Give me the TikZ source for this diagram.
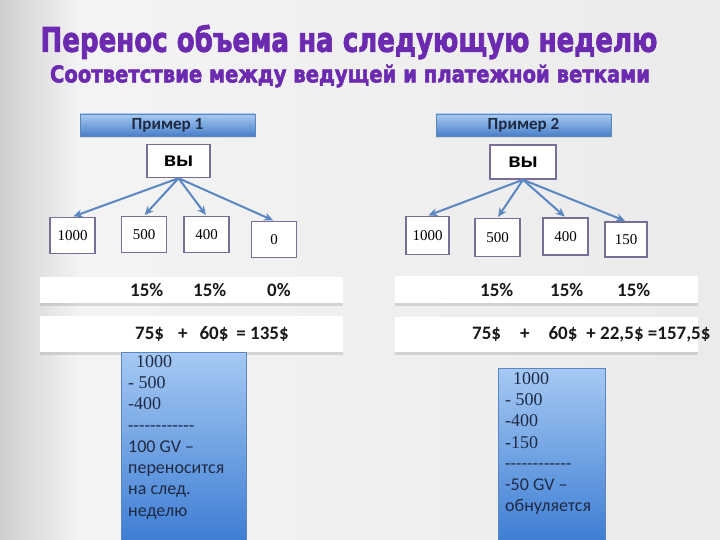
\documentclass[tikz,border=0pt]{standalone}
\usepackage{fontspec}
\usepackage{graphicx}
\setmainfont{Carlito}
\newfontfamily\heavyfont{DejaVu Sans}[BoldFeatures={FakeBold=2.5}]
\newfontfamily\arialfont{Liberation Sans}
\newfontfamily\timesfont{Liberation Serif}
\usetikzlibrary{arrows.meta,shadows}

\definecolor{titlepurple}{HTML}{6B2AB0}
\definecolor{hdrtop}{HTML}{A7CBF2}
\definecolor{hdrbot}{HTML}{4A7FC8}
\definecolor{hdrline}{HTML}{5B86C0}
\definecolor{boxline}{HTML}{7A6E98}
\definecolor{arrowblue}{HTML}{5A86C2}
\definecolor{talltop}{HTML}{A5C9F3}
\definecolor{tallbot}{HTML}{3C7CD3}
\definecolor{hdrtext}{HTML}{1F2A44}

\begin{document}
\begin{tikzpicture}[x=1pt, y=-1pt]
%styles
\tikzstyle{hdr}=[rectangle, draw=hdrline, top color=hdrtop, bottom color=hdrbot, minimum width=175pt, minimum height=22pt, inner sep=0pt, text=hdrtext, font=\bfseries\fontsize{17}{17}\selectfont, drop shadow={shadow xshift=0pt, shadow yshift=-2pt, opacity=0.2}]
\tikzstyle{youbox}=[rectangle, draw=boxline, line width=1.5pt, fill=white, minimum width=63pt, minimum height=33pt, inner sep=0pt, font=\arialfont\bfseries\fontsize{20}{20}\selectfont]
\tikzstyle{leaf}=[rectangle, draw=boxline, line width=1.5pt, fill=white, minimum width=45pt, minimum height=36pt, inner sep=0pt, font=\timesfont\fontsize{15}{15}\selectfont]
\tikzstyle{band}=[fill=white, drop shadow={shadow xshift=0pt, shadow yshift=-2.5pt, opacity=0.25}]
\tikzstyle{tall}=[draw=hdrline, top color=talltop, bottom color=tallbot]
\tikzstyle{textw}=[inner sep=0pt, anchor=base west, text=black!90, font=\bfseries\fontsize{19}{19}\selectfont]
\tikzstyle{textBox}=[inner sep=0pt, anchor=north west, align=left, text=hdrtext, font=\fontsize{18}{21.3}\selectfont]
\tikzstyle{vector}=[-{Stealth[length=9pt,width=8pt]}, line width=2pt, arrowblue, shorten >=1pt]

%background
\useasboundingbox (0,0) rectangle (720,540);
\shade[left color=gray!38, right color=gray!9] (0,0) rectangle (80,540);
\shade[left color=gray!9, middle color=gray!3, right color=gray!16] (80,0) rectangle (720,540);

%titles
\node[text=titlepurple, inner sep=0pt] (title) at (349,42) {\heavyfont\bfseries\fontsize{34}{34}\selectfont\resizebox{617pt}{\height}{Перенос объема на следующую неделю}};
\node[text=titlepurple, inner sep=0pt] (subtitle) at (350,76) {\heavyfont\bfseries\fontsize{23}{23}\selectfont\resizebox{600pt}{\height}{Соответствие между ведущей и платежной ветками}};

%example 1
\node[hdr] (ex1) at (167.5,125) {Пример 1};
\node[youbox] (you1) at (178.5,161) {вы};
\node[leaf] (c1a) at (72.5,235.5) {1000};
\node[leaf] (c1b) at (144,234.5) {500};
\node[leaf] (c1c) at (206.5,234.5) {400};
\node[leaf] (c1d) at (274,239.5) {0};
\foreach \c in {c1a,c1b,c1c,c1d}
  \draw[vector] (you1.south) -- (\c.north);

%example 2
\node[hdr] (ex2) at (523.5,125) {Пример 2};
\node[youbox, minimum width=66pt, minimum height=34pt] (you2) at (523,162) {вы};
\node[leaf, minimum width=43pt, minimum height=38pt] (c2a) at (427.5,235.5) {1000};
\node[leaf, minimum width=45pt, minimum height=38pt] (c2b) at (497.5,237.5) {500};
\node[leaf, minimum width=45pt, minimum height=37pt] (c2c) at (565.5,236.5) {400};
\node[leaf, minimum width=42pt, minimum height=35pt] (c2d) at (626,239.5) {150};
\foreach \c in {c2a,c2b,c2c,c2d}
  \draw[vector] (you2.south) -- (\c.north);

%bands
\path[band] (40,277) rectangle (343,303);
\path[band] (40,316) rectangle (343,352);
\path[band] (395,276) rectangle (698,303);
\path[band] (395,317) rectangle (698,352);

%percents
\node[textw] (p1a) at (130,296) {15\%};
\node[textw] (p1b) at (193,296) {15\%};
\node[textw] (p1c) at (267,296) {0\%};
\node[textw] (p2a) at (480,296) {15\%};
\node[textw] (p2b) at (550,296) {15\%};
\node[textw] (p2c) at (617,296) {15\%};

%sums
\node[textw] (s1) at (135,339) {75\$\hspace{14pt}+\hspace{12pt}60\$\hspace{8pt}= 135\$};
\node[textw] (s2) at (472,339) {75\$\hspace{19pt}+\hspace{19pt}60\$\hspace{9pt}+ 22,5\$ =157,5\$};

%remainders
\path[tall] (121,352) rectangle (246,545);
\node[textBox] (r1) at (128,355) {{\timesfont\hspace*{8pt}1000}\\{\timesfont- 500}\\{\timesfont-400}\\-{}-{}-{}-{}-{}-{}-{}-{}-{}-{}-{}-\\100 GV –\\переносится\\на след.\\неделю};
\path[tall] (498,368) rectangle (605,545);
\node[textBox] (r2) at (505,372) {{\timesfont\hspace*{8pt}1000}\\{\timesfont- 500}\\{\timesfont-400}\\{\timesfont-150}\\-{}-{}-{}-{}-{}-{}-{}-{}-{}-{}-{}-\\-50 GV –\\обнуляется};
\end{tikzpicture}
\end{document}
